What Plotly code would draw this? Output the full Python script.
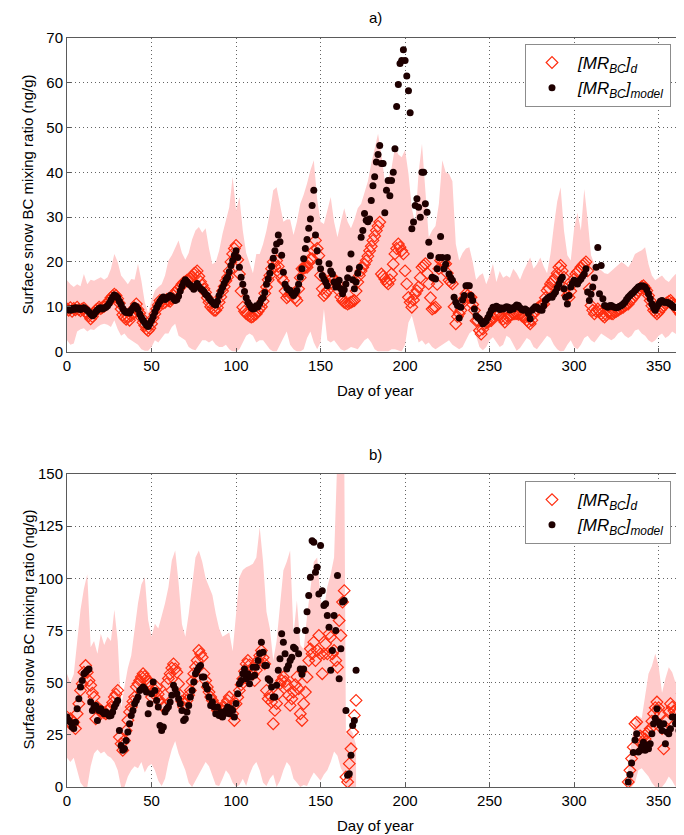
import plotly.graph_objects as go

# ---------------- DATA ----------------
# Panel a) : daily values, day 0..365
TOP_DAYS = list(range(0, 366))
TOP_MODEL = [
    9.3, 9.5, 9.2, 9.6, 9.4, 9.8, 9.5, 9.7, 9.4, 9.6,
    9.8, 9.5, 9.2, 8.8, 8.4, 8.0, 8.3, 8.9, 9.3, 9.6,
    9.8, 9.5, 9.7, 9.9, 10.2, 10.8, 11.5, 12.1, 12.6, 12.4,
    12.0, 11.2, 10.5, 9.6, 9.0, 8.7, 8.9, 8.6, 9.2, 9.8,
    10.3, 10.0, 9.4, 8.4, 7.6, 7.0, 6.4, 5.9, 5.6, 6.2,
    7.0, 7.8, 8.8, 9.8, 10.5, 11.2, 11.8, 12.2, 11.6, 11.9,
    12.2, 12.5, 12.3, 11.8, 11.4, 11.6, 12.4, 13.5, 14.6, 15.4,
    16.0, 15.6, 15.1, 14.8, 14.4, 13.9, 14.6, 15.2, 14.5, 14.0,
    13.8, 13.4, 12.8, 12.5, 11.9, 11.4, 11.0, 10.6, 10.4, 11.2,
    12.5, 13.4, 14.3, 15.2, 16.0, 16.6, 17.8, 19.2, 20.3, 21.5,
    22.5, 21.0, 18.8, 16.6, 15.0, 13.4, 12.0, 11.0, 10.4, 9.8,
    9.5, 9.6, 10.2, 10.0, 10.8, 11.6, 12.0, 13.2, 15.0, 16.2,
    17.5, 19.0, 20.8, 22.5, 24.0, 26.0, 24.5, 21.5, 17.7, 15.0,
    14.2, 13.8, 13.6, 13.0, 12.5, 13.0, 13.6, 15.0, 16.6, 18.5,
    20.7, 23.0, 25.0, 27.5, 29.6, 32.6, 36.0, 26.0, 22.5, 20.0,
    18.5, 17.0, 16.2, 15.5, 14.7, 19.6, 18.0, 17.3, 15.5, 14.4,
    15.0, 15.9, 14.0, 12.9, 13.8, 15.1, 16.5, 18.5, 21.8, 16.0,
    14.0, 15.5, 17.5, 18.8, 25.5, 27.0, 30.8, 29.3, 29.0, 29.6,
    33.7, 37.0, 39.0, 42.3, 44.0, 46.0, 42.0, 42.0, 31.0, 36.0,
    38.2, 34.8, 38.2, 40.0, 45.3, 54.7, 59.6, 64.3, 65.0, 67.4,
    65.0, 61.5, 58.2, 53.3, 27.4, 28.9, 32.6, 34.1, 32.2, 30.0,
    40.0, 40.0, 33.0, 31.1, 24.4, 21.4, 16.6, 16.4, 16.2, 18.5,
    21.0, 25.7, 21.0, 18.5, 19.5, 21.0, 17.3, 16.5, 15.9, 12.1,
    11.0, 10.3, 7.5, 9.9, 11.5, 12.5, 14.7, 14.7, 14.7, 12.5,
    11.4, 9.5, 8.0, 7.6, 7.3, 6.8, 6.2, 6.5, 6.9, 7.6,
    8.4, 9.2, 9.9, 9.6, 10.1, 9.9, 9.4, 9.7, 9.5, 9.8,
    10.0, 9.9, 9.3, 9.7, 9.5, 10.0, 10.4, 10.3, 9.8, 9.4,
    9.2, 9.5, 9.2, 8.5, 7.3, 9.2, 9.6, 10.0, 9.9, 9.5,
    9.3, 9.2, 10.2, 11.4, 11.8, 12.1, 12.3, 12.1, 12.8, 13.3,
    14.2, 15.1, 16.0, 16.6, 14.0, 12.1, 10.6, 12.5, 14.4, 15.2,
    15.9, 15.5, 15.1, 15.8, 16.2, 16.8, 17.3, 18.5, 13.3, 11.4,
    12.8, 14.4, 16.5, 18.8, 23.2, 12.9, 19.2, 11.8, 10.3, 10.1,
    9.9, 10.2, 10.3, 10.0, 9.9, 9.8, 9.9, 10.1, 10.3, 10.6,
    11.0, 11.6, 12.1, 12.5, 12.9, 13.2, 13.6, 14.0, 14.4, 14.6,
    14.7, 14.6, 14.4, 13.8, 12.9, 11.8, 10.6, 9.8, 9.2, 10.0,
    10.6, 11.2, 11.4, 11.0, 11.0, 11.0, 10.8, 10.6, 10.2, 9.9,
    9.9, 9.9, 9.7, 9.5, 9.5, 9.5,
]
TOP_D = [
    9.5, 9.2, 9.8, 9.0, 9.6, 9.3, 9.9, 9.4, 9.1, 9.5,
    9.7, 9.0, 8.5, 8.0, 7.3, 7.8, 8.6, 9.2, 9.5, 9.9,
    9.6, 9.9, 10.1, 10.4, 10.8, 11.4, 12.0, 12.4, 12.8, 12.5,
    11.8, 10.8, 9.5, 8.2, 7.6, 7.2, 7.8, 7.0, 8.0, 8.6,
    9.8, 10.6, 9.4, 8.6, 7.6, 6.5, 5.8, 5.0, 4.7, 5.2,
    6.2, 7.5, 8.4, 9.5, 10.4, 11.4, 11.2, 10.8, 11.0, 11.6,
    11.4, 11.2, 11.8, 12.5, 13.2, 13.6, 14.0, 14.4, 15.0, 15.4,
    15.6, 15.9, 15.9, 16.4, 16.8, 17.3, 17.6, 18.0, 16.8, 15.6,
    14.8, 14.0, 13.2, 12.0, 11.0, 10.0, 9.6, 9.2, 9.2, 9.8,
    11.0, 12.2, 13.5, 14.5, 15.8, 16.6, 18.0, 20.0, 21.8, 23.0,
    23.7, 20.5, 17.3, 13.5, 9.9, 9.0, 8.5, 8.2, 7.9, 7.7,
    7.8, 8.2, 8.4, 9.0, 9.6, 10.0, 11.2, 13.0, 14.4, 16.0,
    17.0, 18.5, 20.0, 19.0, 20.3, 19.0, 17.5, 16.5, 15.8, 13.5,
    12.0, 12.4, 12.9, 12.9, 12.9, 12.0, 11.4, 14.0, 16.5, 18.5,
    18.6, 18.8, 18.8, 19.8, 20.7, 20.7, 22.5, 24.8, 23.0, 21.4,
    17.0, 14.0, 12.5, 13.0, 13.6, 15.0, 16.0, 16.6, 16.0, 15.5,
    15.1, 13.5, 12.2, 11.4, 11.0, 10.8, 10.6, 10.8, 11.0, 11.2,
    11.4, 13.5, 15.5, 17.0, 18.0, 18.8, 19.5, 20.3, 21.3, 22.5,
    23.5, 24.8, 25.8, 27.0, 28.0, 28.9, 17.3, 16.8, 16.2, 15.5,
    15.1, 16.0, 17.3, 19.5, 21.8, 23.0, 24.0, 23.3, 22.5, 21.8,
    18.0, 15.1, 12.1, 11.0, 9.9, 11.5, 12.9, 13.6, 14.4, 16.5,
    18.8, 19.2, 19.6, 17.5, 15.1, 12.0, 9.5, 9.7, 9.9, 15.0,
    18.5, 20.3, 20.0, 19.8, 19.6, 17.5, 15.9, 15.5, 15.1, 10.0,
    6.2, 7.8, 8.5, 9.2, 10.8, 11.8, 12.9, 12.5, 12.1, 12.1,
    10.5, 9.2, 6.9, 6.9, 4.7, 3.9, 5.0, 6.2, 6.4, 6.6,
    6.8, 6.9, 7.6, 8.4, 8.4, 8.2, 8.4, 7.8, 7.2, 6.6,
    7.4, 7.8, 8.0, 8.2, 8.4, 8.4, 8.5, 8.3, 8.4, 8.0,
    7.8, 7.7, 7.0, 6.6, 6.2, 7.0, 8.4, 9.0, 9.5, 9.9,
    10.2, 10.4, 10.6, 12.0, 13.6, 14.2, 15.1, 15.6, 16.1, 16.6,
    17.5, 18.8, 19.2, 18.0, 16.6, 14.0, 12.5, 12.1, 13.5, 15.1,
    16.2, 17.3, 17.8, 18.1, 18.8, 19.2, 19.6, 20.0, 18.0, 14.0,
    10.3, 9.2, 8.4, 9.0, 9.5, 9.0, 8.4, 8.0, 7.7, 8.2,
    8.8, 8.6, 8.5, 8.4, 8.8, 9.0, 9.2, 9.5, 9.7, 9.9,
    10.2, 10.5, 10.6, 11.2, 11.6, 12.1, 12.6, 13.0, 13.6, 14.1,
    14.5, 14.7, 14.2, 13.6, 12.5, 11.4, 10.2, 9.2, 8.8, 8.4,
    8.8, 9.3, 9.9, 10.2, 10.6, 10.9, 11.2, 11.4, 10.8, 10.3,
    9.9, 9.4, 8.9, 8.4, 8.6, 8.8,
]
TOP_BAND_DAYS = list(range(0, 366, 2)) + [365]
TOP_BAND_HI = [
    15.9, 15.0, 14.4, 15.0, 14.6, 17.3, 15.0, 16.0, 15.8, 16.2,
    16.6, 16.0, 16.6, 18.5, 21.8, 20.0, 17.0, 16.0, 15.0, 16.2,
    16.0, 19.6, 15.8, 11.0, 8.6, 11.4, 13.6, 14.4, 15.0, 17.0,
    20.3, 21.5, 23.3, 24.8, 22.0, 20.5, 22.0, 25.0, 27.0, 27.8,
    26.5, 27.5, 23.0, 19.5, 20.0, 22.5, 26.3, 29.0, 32.2, 39.0,
    31.5, 34.5, 27.0, 22.0, 19.5, 17.5, 21.8, 21.8, 24.0, 27.0,
    31.0, 36.0, 36.7, 33.0, 29.0, 29.5, 29.5, 26.0, 29.0, 33.0,
    35.0, 37.5, 40.5, 42.7, 34.0, 29.0, 28.5, 31.5, 34.5, 29.0,
    25.5, 29.0, 32.0, 29.0, 27.5, 29.5, 32.0, 33.0, 35.5, 38.0,
    42.0, 45.0, 48.6, 44.0, 38.0, 38.5, 41.0, 45.6, 44.0, 43.4,
    45.0, 39.7, 32.0, 28.5, 40.0, 46.4, 36.0, 25.5, 27.0, 28.0,
    33.0, 42.7, 40.0, 39.7, 38.0, 24.0, 20.3, 22.0, 23.0, 23.3,
    20.0, 16.0, 17.0, 17.5, 15.0, 17.0, 19.6, 15.5, 18.0, 16.5,
    17.0, 16.5, 18.5, 17.5, 16.0, 18.0, 19.5, 21.0, 18.5, 19.5,
    21.0, 19.0, 17.5, 21.8, 28.0, 33.5, 36.7, 27.0, 21.5, 20.3,
    27.5, 31.0, 27.0, 36.3, 29.5, 21.5, 19.5, 18.8, 18.0, 17.5,
    17.3, 18.0, 18.8, 19.5, 20.0, 19.5, 18.8, 20.0, 21.8, 22.2,
    22.6, 23.3, 19.5, 17.0, 15.9, 16.5, 17.0, 16.0, 15.5, 16.5,
    17.3, 16.5, 15.9, 15.5,
]
TOP_BAND_LO = [
    2.5, 1.5, 1.8, 4.5, 5.0, 5.2, 4.5, 5.0, 4.8, 5.5,
    6.0, 6.2, 6.0, 5.5, 7.0, 5.0, 3.5, 4.0, 3.0, 2.5,
    2.0, 1.5, 0.5, 0.2, 0.2, 1.0, 2.5, 2.0, 3.0, 4.0,
    4.0, 5.5, 6.2, 3.5, 3.0, 2.5, 1.0, 0.5, 0.3, 1.5,
    2.5, 2.5, 2.0, 2.5, 1.5, 1.0, 1.0, 1.5, 0.5, 0.0,
    0.0, 0.5, 2.0, 3.5, 4.0, 3.5, 2.0, 2.5, 2.5, 1.5,
    0.5, 0.0, 0.0, 1.5, 3.0, 4.5, 1.5, 0.5, 0.0, 0.0,
    0.5, 3.0, 4.5, 2.0, 0.5, 2.0, 9.5, 2.5, 2.0, 2.5,
    1.5, 0.5, 0.2, 0.5, 1.0, 0.8, 0.5, 1.5, 2.5, 3.0,
    2.0, 0.5, 0.0, 0.0, 0.0, 0.0, 0.5, 0.5, 0.2, 0.0,
    1.5, 6.5, 8.0, 5.0, 2.0, 2.5, 1.5, 2.0, 1.0, 0.5,
    1.0, 1.5, 2.0, 2.5, 1.5, 1.0, 0.5, 1.0, 2.5, 4.0,
    4.7, 3.5, 1.0, 0.3, 1.0, 2.5, 3.2, 2.0, 1.0, 1.5,
    3.5, 3.0, 1.5, 0.2, 0.8, 2.0, 3.0, 2.5, 1.0, 0.5,
    1.5, 2.5, 3.5, 3.0, 1.5, 0.5, 0.0, 0.2, 1.5, 2.5,
    1.0, 0.5, 1.5, 3.0, 3.5, 2.5, 2.0, 3.0, 4.0, 3.5,
    3.0, 2.5, 3.0, 4.0, 4.5, 3.5, 3.0, 3.5, 4.7, 5.0,
    4.0, 3.5, 2.5, 2.0, 2.5, 3.5, 4.0, 3.0, 3.5, 4.5,
    4.0, 3.5, 3.0, 3.0,
]

# Panel b) : first season, day 0..171
BOT_DAYS_1 = list(range(0, 172))
BOT_MODEL_1 = [
    33.5, 32.0, 31.0, 28.7, 28.0, 31.0, 37.5, 42.3, 47.9, 51.0,
    54.3, 55.0, 55.9, 56.6, 40.7, 36.7, 38.3, 39.1, 31.9, 36.7,
    37.5, 36.0, 35.1, 36.0, 35.1, 34.0, 34.3, 35.9, 38.3, 39.9,
    41.5, 27.1, 19.9, 17.6, 18.3, 22.3, 26.3, 30.3, 34.3, 36.7,
    39.9, 41.5, 43.1, 46.3, 47.0, 47.9, 47.0, 45.5, 35.1, 39.9,
    44.7, 50.3, 46.3, 41.5, 38.3, 29.5, 27.1, 28.7, 35.9, 37.5,
    38.5, 40.7, 44.0, 48.7, 47.0, 44.7, 42.3, 39.9, 36.7, 31.9,
    32.7, 35.9, 39.1, 43.1, 46.3, 50.3, 54.3, 55.9, 57.4, 58.2,
    52.7, 52.7, 48.7, 47.0, 43.1, 39.1, 40.7, 38.3, 35.1, 38.3,
    34.3, 35.9, 33.5, 35.1, 36.7, 38.3, 35.1, 37.5, 36.7, 33.5,
    40.0, 44.7, 49.5, 51.0, 54.3, 56.6, 51.9, 54.3, 49.5, 52.7,
    57.4, 53.5, 57.4, 60.6, 64.0, 69.4, 64.6, 58.2, 58.2, 51.9,
    51.0, 47.9, 43.1, 43.1, 48.7, 55.9, 61.4, 73.4, 69.4, 63.8,
    56.6, 58.2, 60.6, 62.2, 67.0, 66.2, 75.0, 63.8, 56.6, 54.0,
    56.6, 75.0, 84.0, 91.8, 100.5, 118.0, 117.3, 102.9, 105.3, 92.5,
    115.7, 94.1, 87.0, 87.8, 82.2, 76.6, 55.9, 65.4, 82.2, 75.0,
    101.3, 51.9, 66.2, 88.6, 89.4, 36.7, 5.6, 6.4, 15.2, 29.5,
    31.9, 55.9,
]
BOT_D_1 = [
    33.5, 31.0, 32.7, 30.0, 31.0, 28.0, 35.1, 39.9, 46.3, 49.5,
    55.0, 58.2, 55.0, 51.0, 48.7, 45.0, 43.1, 32.7, 38.3, 37.0,
    36.7, 36.0, 35.5, 35.1, 36.5, 37.5, 38.3, 40.5, 43.1, 44.5,
    46.3, 23.9, 20.7, 17.6, 22.3, 27.0, 32.0, 36.0, 38.3, 41.0,
    43.1, 48.0, 49.5, 51.0, 52.7, 54.3, 53.0, 51.9, 50.5, 49.5,
    43.1, 45.0, 46.5, 47.9, 44.5, 41.5, 39.5, 38.3, 44.0, 49.5,
    52.0, 54.3, 57.0, 59.0, 56.6, 55.0, 49.5, 43.9, 41.0, 38.3,
    40.0, 41.5, 44.0, 46.3, 50.5, 54.3, 57.5, 60.6, 65.4, 63.8,
    62.2, 54.3, 51.0, 47.9, 45.5, 43.1, 41.5, 39.9, 38.3, 36.7,
    36.0, 35.1, 36.7, 38.3, 40.0, 41.5, 43.1, 39.0, 35.1, 31.9,
    39.9, 43.0, 46.3, 49.0, 51.9, 55.5, 59.0, 60.6, 58.5, 56.6,
    54.0, 51.0, 56.0, 60.6, 63.0, 65.4, 62.0, 59.0, 46.3, 42.3,
    44.0, 40.7, 30.3, 36.7, 40.0, 44.7, 49.5, 51.0, 52.7, 50.5,
    48.7, 44.0, 39.1, 42.3, 45.5, 49.0, 52.7, 47.0, 35.1, 31.9,
    39.9, 45.5, 52.7, 60.6, 66.2, 63.8, 69.4, 60.6, 65.4, 72.6,
    63.8, 54.3, 63.8, 68.6, 63.8, 73.4, 71.8, 63.8, 65.4, 60.6,
    57.4, 79.8, 72.6, 88.6, 94.1, 4.8, 2.4, 11.2, 18.3, 26.3,
    34.3, 41.5,
]
BOT_BAND_DAYS_1 = list(range(0, 165, 2)) + [165, 167, 169, 171]
BOT_BAND_HI_1 = [
    54.3, 50.0, 54.0, 70.0, 85.0, 95.0, 102.0, 67.0, 70.0, 63.8,
    73.4, 68.0, 72.0, 70.0, 85.0, 70.0, 38.0, 48.0, 57.0, 63.0,
    75.0, 88.0, 97.0, 100.5, 80.0, 72.0, 78.2, 76.0, 82.0, 88.0,
    95.7, 108.5, 113.3, 98.0, 78.0, 72.0, 83.0, 96.0, 110.0, 113.3,
    108.0, 100.0, 96.0, 92.0, 83.0, 76.0, 72.0, 73.0, 74.0, 65.0,
    82.0, 100.5, 104.0, 105.3, 106.0, 107.0, 110.0, 124.5, 108.0, 84.0,
    76.0, 60.6, 70.0, 88.0, 103.7, 108.0, 113.3, 73.0, 89.4, 68.0,
    66.0, 82.0, 95.7, 108.0, 110.0, 90.0, 85.0, 96.0, 102.0, 110.0,
    160.0, 160.0, 160.0,
    25.0, 28.0, 26.0, 20.0,
]
BOT_BAND_LO_1 = [
    14.0, 12.0, 14.0, 8.0, 2.0, 0.0, 0.0, 10.0, 16.0, 18.0,
    16.0, 17.0, 15.0, 14.0, 12.0, 8.0, 0.0, 0.0, 5.0, 8.0,
    10.0, 9.0, 12.0, 7.0, 10.0, 11.0, 8.0, 3.0, 0.5, 4.0,
    12.0, 18.0, 22.0, 16.0, 12.0, 8.0, 2.0, 0.0, 3.0, 6.0,
    9.0, 12.0, 10.0, 6.0, 1.0, 0.5, 4.0, 8.0, 6.0, 2.0,
    0.0, 1.0, 4.0, 0.5, 6.0, 10.0, 12.0, 8.0, 2.0, 0.5,
    4.0, 6.0, 0.0, 3.0, 8.0, 12.0, 10.0, 4.0, 2.0, 0.0,
    1.0, 0.5, 4.0, 7.0, 5.0, 3.0, 6.0, 8.0, 12.0, 17.0,
    15.0, 9.0, 6.0,
    0.0, 0.0, 0.0, 0.0,
]

# Panel b) : second season, day 332..365
BOT_DAYS_2 = list(range(332, 366))
BOT_MODEL_2 = [
    2.4, 6.0, 11.5, 16.5, 22.5, 25.5, 16.8, 17.5, 19.5, 21.5,
    17.6, 19.9, 18.3, 20.7, 25.5, 30.3, 33.0, 37.5, 31.1, 29.5,
    27.1, 30.3, 20.7, 26.3, 25.5, 27.9, 33.5, 33.5, 30.3, 31.1,
    27.1, 27.9, 35.1, 39.1,
]
BOT_D_2 = [
    2.4, 8.0, 13.6, 19.1, 30.3, 31.1, 22.3, 24.5, 23.9, 20.7,
    23.0, 25.5, 26.5, 27.9, 31.5, 35.1, 38.0, 40.7, 38.0, 35.1,
    28.0, 18.3, 28.7, 32.0, 35.9, 39.9, 38.3, 36.5, 35.1, 33.0,
    31.1, 38.0, 44.7, 43.0,
]
BOT_BAND_DAYS_2 = list(range(332, 366, 2)) + [365]
BOT_BAND_HI_2 = [8.0, 22.3, 31.9, 34.0, 33.0, 44.7, 54.3, 58.0, 63.8, 58.0,
                 45.0, 52.0, 57.4, 55.0, 50.0, 60.6, 58.0, 62.0]
BOT_BAND_LO_2 = [0.0, 0.0, 2.0, 8.0, 9.0, 7.0, 5.0, 2.0, 0.0, 0.0,
                 0.0, 2.0, 5.0, 3.0, 0.0, 2.0, 5.0, 4.0]

X_TICKS = [0, 50, 100, 150, 200, 250, 300, 350]
TOP_Y_TICKS = [0, 10, 20, 30, 40, 50, 60, 70]
BOT_Y_TICKS = [0, 25, 50, 75, 100, 125, 150]

LBL_D = "<i>[MR<sub>BC</sub>]<sub>d</sub></i>"
LBL_M = "<i>[MR<sub>BC</sub>]<sub>model</sub></i>"
Y_TITLE = "Surface snow BC mixing ratio (ng/g)"
X_TITLE = "Day of year"

# ---------------- STYLE ----------------
FONT = "Liberation Sans, Arial, Helvetica, sans-serif"
BAND = "rgb(255,204,204)"
RED = "rgb(255,45,15)"
DOT = "rgb(30,0,0)"
AXC = "rgb(90,90,90)"
GRIDC = "rgb(100,100,100)"

fig = go.Figure()


def band(xs, hi, lo, xa, ya):
    fig.add_trace(go.Scatter(
        x=list(xs) + list(xs)[::-1], y=list(hi) + list(lo)[::-1],
        fill="toself", fillcolor=BAND, line=dict(width=0), mode="lines",
        hoverinfo="skip", showlegend=False, xaxis=xa, yaxis=ya))


def markers(xs, d, m, xa, ya, leg, show):
    fig.add_trace(go.Scatter(
        x=xs, y=d, mode="markers", name=LBL_D, legend=leg, showlegend=show,
        marker=dict(symbol="diamond-open", size=9, color=RED, line=dict(width=1.2, color=RED)),
        xaxis=xa, yaxis=ya))
    fig.add_trace(go.Scatter(
        x=xs, y=m, mode="markers", name=LBL_M, legend=leg, showlegend=show,
        marker=dict(symbol="circle", size=7, color=DOT, line=dict(width=0)),
        xaxis=xa, yaxis=ya))


band(TOP_BAND_DAYS, TOP_BAND_HI, TOP_BAND_LO, "x", "y")
band(BOT_BAND_DAYS_1, BOT_BAND_HI_1, BOT_BAND_LO_1, "x2", "y2")
band(BOT_BAND_DAYS_2, BOT_BAND_HI_2, BOT_BAND_LO_2, "x2", "y2")
markers(TOP_DAYS, TOP_D, TOP_MODEL, "x", "y", "legend", True)
markers(BOT_DAYS_1, BOT_D_1, BOT_MODEL_1, "x2", "y2", "legend2", True)
markers(BOT_DAYS_2, BOT_D_2, BOT_MODEL_2, "x2", "y2", "legend2", False)

axis_common = dict(
    showline=True, linecolor=AXC, linewidth=1, mirror=True,
    showgrid=True, gridcolor=GRIDC, gridwidth=1, griddash="1px,3px",
    zeroline=False, ticks="inside", ticklen=4, tickcolor=AXC,
    tickfont=dict(family=FONT, size=15, color="black"),
)

legend_common = dict(
    xanchor="left", yanchor="top", bgcolor="white",
    bordercolor="rgb(140,140,140)", borderwidth=1, itemwidth=42,
    font=dict(family=FONT, size=17, color="black"),
)

# The page body has an 8px margin, so the figure is sized to fit the 684x835 window.
fig.update_layout(
    width=676, height=827,
    margin=dict(l=59, r=0, t=30, b=48),
    paper_bgcolor="white", plot_bgcolor="white",
    font=dict(family=FONT, size=15, color="black"),
    xaxis=dict(domain=[0, 1], anchor="y", range=[0, 365], tickvals=X_TICKS, **axis_common),
    yaxis=dict(domain=[0.5814, 1], anchor="x", range=[0, 70], tickvals=TOP_Y_TICKS, **axis_common),
    xaxis2=dict(domain=[0, 1], anchor="y2", range=[0, 365], tickvals=X_TICKS, **axis_common),
    yaxis2=dict(domain=[0, 0.4179], anchor="x2", range=[0, 150], tickvals=BOT_Y_TICKS, **axis_common),
    legend=dict(x=0.7423, y=0.992, **legend_common),
    legend2=dict(x=0.7423, y=0.4085, **legend_common),
    showlegend=True,
    annotations=[
        dict(text="a)", xref="paper", yref="paper", x=0.5, y=1.028, showarrow=False,
             xanchor="center", yanchor="middle", font=dict(size=15)),
        dict(text="b)", xref="paper", yref="paper", x=0.5, y=0.4433, showarrow=False,
             xanchor="center", yanchor="middle", font=dict(size=15)),
        dict(text=X_TITLE, xref="paper", yref="paper", x=0.5, y=0.530, showarrow=False,
             xanchor="center", yanchor="middle", font=dict(size=15)),
        dict(text=X_TITLE, xref="paper", yref="paper", x=0.5, y=-0.052, showarrow=False,
             xanchor="center", yanchor="middle", font=dict(size=15)),
        dict(text=Y_TITLE, xref="paper", yref="paper", x=-0.064, y=0.7904, showarrow=False,
             textangle=-90, xanchor="center", yanchor="middle", font=dict(size=15)),
        dict(text=Y_TITLE, xref="paper", yref="paper", x=-0.064, y=0.2096, showarrow=False,
             textangle=-90, xanchor="center", yanchor="middle", font=dict(size=15)),
    ],
)

fig.write_html("out.html")
